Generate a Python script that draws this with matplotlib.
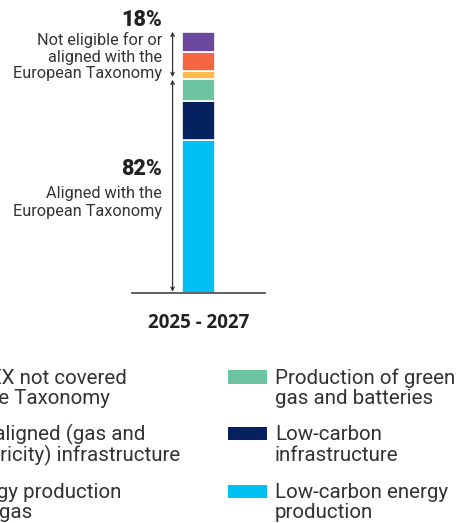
import matplotlib.pyplot as plt

# stacked shares for 2025 - 2027, bottom to top (%)
labels = ["Low-carbon energy\nproduction",
          "Low-carbon\ninfrastructure",
          "Production of green\ngas and batteries",
          "Energy production\nfrom gas",
          "Non-aligned (gas and\nelectricity) infrastructure",
          "CAPEX not covered\nby the Taxonomy"]
values = [58.3, 15.3, 8.4, 2.8, 7.6, 7.6]
colors = ["#00BFF3", "#052160", "#6CC5A0", "#FDBA4D", "#F26641", "#6B479D"]
period = "2025 - 2027"
aligned_pct = 82
not_aligned_pct = 18

W, H = 463, 523
fig = plt.figure(figsize=(W / 100, H / 100), dpi=100)


def px(x, y):
    return x / W, 1 - y / H


ax = fig.add_axes([132 / W, (H - 292.5) / H, 133 / W, (292.5 - 31.7) / H])
bottom = 0
for v, c in zip(values, colors):
    ax.bar(0, v, bottom=bottom, width=1.0, color=c, edgecolor="white", linewidth=1.2)
    bottom += v
ax.set_xlim(-2, 2)
ax.set_ylim(0, 100)
for s in ["top", "left", "right"]:
    ax.spines[s].set_visible(False)
ax.spines["bottom"].set_color("#555555")
ax.spines["bottom"].set_linewidth(1.3)
ax.set_xticks([])
ax.set_yticks([])

# double arrows for the two groups
arr = dict(arrowstyle="<->", color="#333333", lw=0.9, shrinkA=0, shrinkB=0, mutation_scale=6)
ax.annotate("", xy=(-0.78, 100), xytext=(-0.78, 100 - not_aligned_pct + 0.6), arrowprops=arr)
ax.annotate("", xy=(-0.78, aligned_pct - 0.4), xytext=(-0.78, 0.3), arrowprops=arr)

txt = "#333333"
reg = ["Roboto", "DejaVu Sans"]
fig.text(*px(162, 25.5), f"{not_aligned_pct}%", ha="right", va="baseline", fontsize=15.5,
         fontweight="black", family=reg, color="#222222")
for y, line in zip([45, 61.7, 78.3], ["Not eligible for or", "aligned with the", "European Taxonomy"]):
    fig.text(*px(162, y), line, ha="right", va="baseline", fontsize=11.7, family=reg, color=txt)

fig.text(*px(162, 175), f"{aligned_pct}%", ha="right", va="baseline", fontsize=15.5,
         fontweight="black", family=reg, color="#222222")
for y, line in zip([197.8, 216.4], ["Aligned with the", "European Taxonomy"]):
    fig.text(*px(162, y), line, ha="right", va="baseline", fontsize=11.7, family=reg, color=txt)

fig.text(*px(198.5, 328), period, ha="center", va="baseline", fontsize=13.5,
         fontweight="bold", family=["Open Sans", "DejaVu Sans"], color="#222222")

# legend, right column (drawn by hand)
right = [(0, 383.5), (1, 440.3), (2, 497.8)]
for i, base in right:
    fig.patches.append(plt.Rectangle(px(228, base), 39 / W, 13.3 / H, transform=fig.transFigure,
                                     color=colors[2 - i], lw=0))
    l1, l2 = labels[2 - i].split("\n")
    fig.text(*px(275, base), l1, ha="left", va="baseline", fontsize=14.8, family=reg, color=txt)
    fig.text(*px(275, base + 20.6), l2, ha="left", va="baseline", fontsize=14.8, family=reg, color=txt)

# legend, left column (cut off by the picture edge)
left = [(5, 383.5, 127, 110), (4, 440.3, 145, 180), (3, 497.8, 121, 32)]
for i, base, e1, e2 in left:
    l1, l2 = labels[i].split("\n")
    fig.text(*px(e1, base), l1, ha="right", va="baseline", fontsize=14.8, family=reg, color=txt)
    fig.text(*px(e2, base + 20.6), l2, ha="right", va="baseline", fontsize=14.8, family=reg, color=txt)

fig.savefig("out.png", dpi=100)
